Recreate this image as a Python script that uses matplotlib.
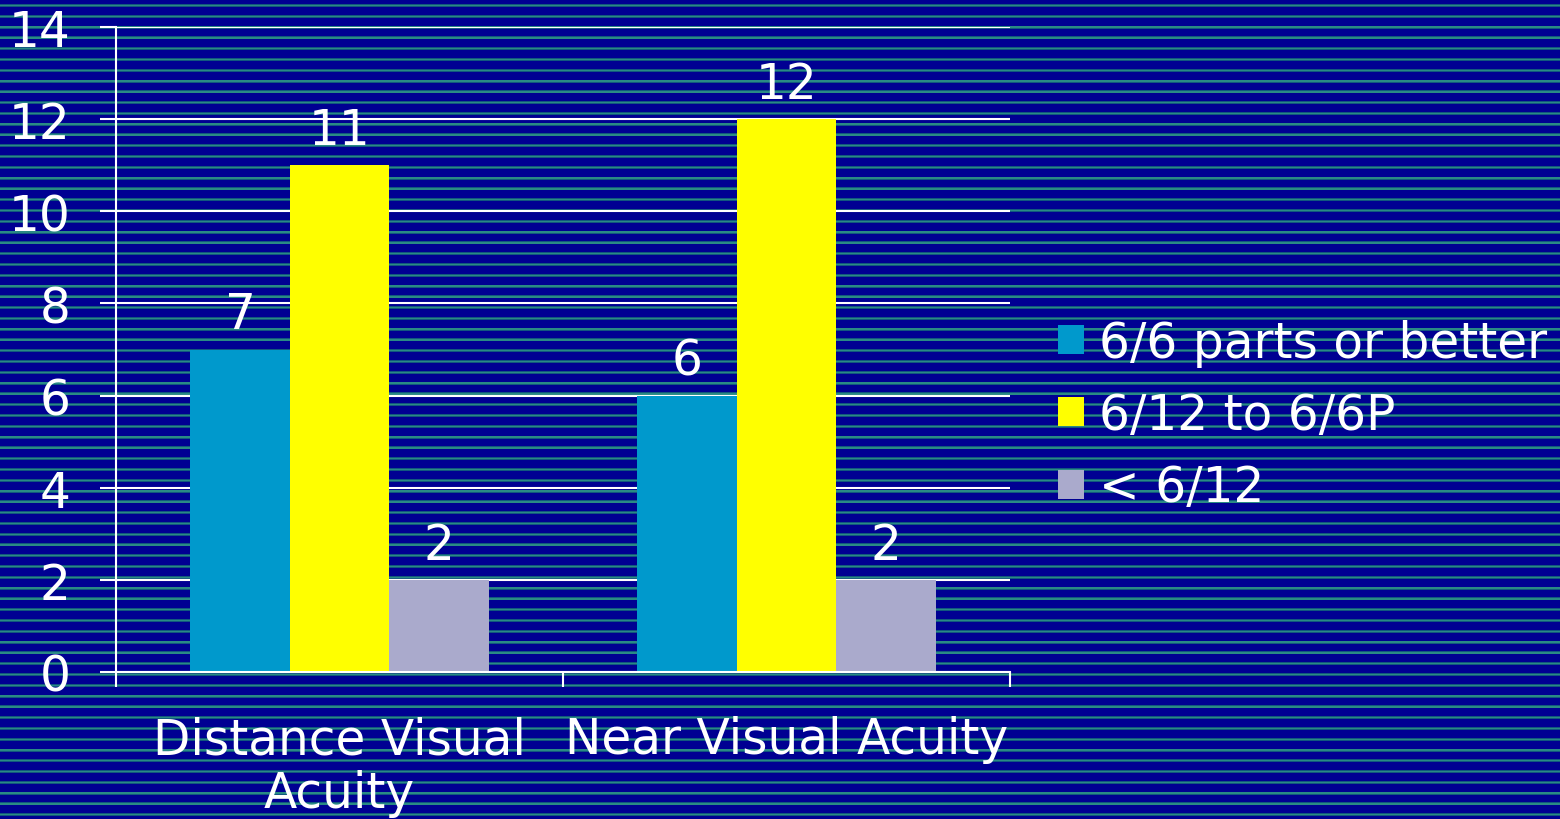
import numpy as np
import matplotlib
matplotlib.use('Agg')
import matplotlib.pyplot as plt
from matplotlib.colors import to_rgb

# datos del grafico
categorias = ['Distance Visual\nAcuity', 'Near Visual Acuity']
series = ['6/6 parts or better', '6/12 to 6/6P', '< 6/12']
valores_66 = [7, 6]
valores_612 = [11, 12]
valores_menor = [2, 2]
colores = ['#0099CC', '#FFFF00', '#AAAACC']
ticks_y = [0, 2, 4, 6, 8, 10, 12, 14]

plt.rcParams['font.family'] = ['DejaVu Sans']
fs = 35

fig = plt.figure(figsize=(15.6, 8.2), dpi=100)
fig.patch.set_facecolor('#000092')

# fondo a rayas (una fila por pixel)
azul = np.array(to_rgb('#000092'))
borde = np.array(to_rgb('#12587E'))
centro = np.array(to_rgb('#2A8A84'))
filas = np.tile(azul, (820, 1))
fase = (np.arange(820) - 4.5) % 10.79
filas[(fase >= 0) & (fase < 3)] = borde
filas[(fase >= 0.8) & (fase < 2.2)] = centro
img = np.repeat(filas[:, None, :], 4, axis=1)
fondo = fig.add_axes([0, 0, 1, 1], zorder=-10)
fondo.imshow(img, aspect='auto', interpolation='nearest', extent=(0, 1, 0, 1))
fondo.axis('off')

ax = fig.add_axes([116 / 1560, 1 - 673 / 820, (1010 - 116) / 1560, (673 - 28) / 820])
ax.patch.set_alpha(0)

x = np.arange(len(categorias))
ancho = 0.2226
datos = [valores_66, valores_612, valores_menor]
for i, (serie, vals) in enumerate(zip(series, datos)):
    barras = ax.bar(x + (i - 1) * ancho, vals, ancho, color=colores[i], label=serie, zorder=3)
    ax.bar_label(barras, padding=8, color='white', fontsize=fs)

ax.set_xlim(-0.5, 1.5)
ax.set_ylim(0, 14)
ax.set_yticks(ticks_y)
ax.yaxis.grid(True, color='white', lw=1.5, zorder=1)
ax.set_axisbelow(True)

for lado in ['top', 'right']:
    ax.spines[lado].set_visible(False)
for lado in ['left', 'bottom']:
    ax.spines[lado].set_color('white')
    ax.spines[lado].set_linewidth(1.5)
    ax.spines[lado].set_zorder(4)

ax.set_xticks(x)
ax.set_xticklabels(categorias, fontsize=fs, color='white', linespacing=1.15)
ax.set_xticks([-0.5, 0.5, 1.5], minor=True)
ax.tick_params(axis='x', which='major', length=0, pad=31)
ax.tick_params(axis='x', which='minor', length=11, width=1.5, color='white', direction='out')
ax.tick_params(axis='y', length=11.5, width=1.5, color='white', labelcolor='white',
               labelsize=fs, pad=21)

leg = fig.legend(loc='center left', bbox_to_anchor=(1058 / 1560, 1 - 416 / 820),
                 frameon=False, fontsize=fs, handlelength=0.54, handleheight=0.54,
                 handletextpad=0.3, labelspacing=0.5, borderpad=0, borderaxespad=0)
for t in leg.get_texts():
    t.set_color('white')

plt.savefig('out.png', dpi=100, facecolor=fig.get_facecolor())
